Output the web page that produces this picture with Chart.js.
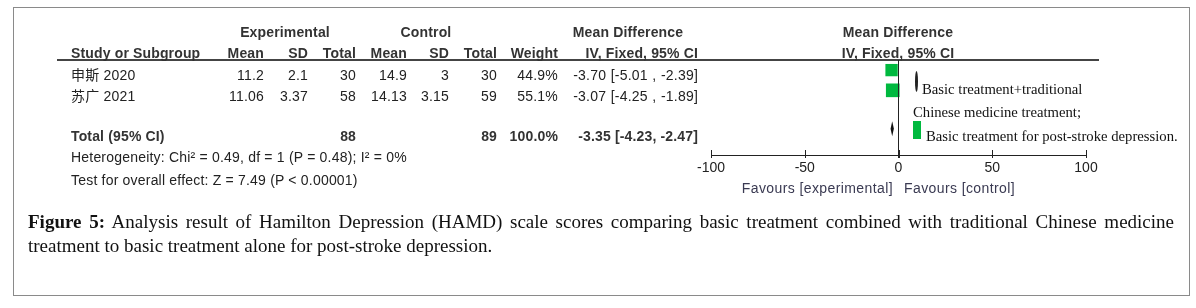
<!DOCTYPE html>
<html>
<head>
<meta charset="utf-8">
<script src="https://cdn.jsdelivr.net/npm/chart.js@4"></script>
<style>
  body { margin: 0; background: #fff; width: 1196px; height: 308px; overflow: hidden; position: relative;
         font-family: "Liberation Sans", Arial, "Noto Sans CJK SC", sans-serif; color: #222; }
  #frame { position: absolute; left: 13px; top: 7px; width: 1175px; height: 287px; border: 1px solid #8a8a8a; }
  #wrap { position: absolute; left: 0; top: 0; width: 1196px; height: 308px; }
  .t { position: absolute; font-size: 14px; line-height: 16px; white-space: nowrap; letter-spacing: 0.2px; }
  .b { font-weight: bold; color: #333; letter-spacing: 0.15px; }
  .ci { word-spacing: 0.5px; }
  .fav { color: #3a3a52; letter-spacing: 0.4px; }
  .leg { position: absolute; font-family: "Liberation Serif", "DejaVu Serif", serif; font-size: 14.7px; line-height: 16px; white-space: nowrap; color: #111; }
  #rule { position: absolute; left: 57px; top: 59px; width: 1042px; height: 2px; background: #444; }
  #cap1, #cap2 { position: absolute; left: 28px; width: 1146px; font-family: "Liberation Serif", "DejaVu Serif", serif;
                 font-size: 19px; line-height: 24px; color: #111; white-space: nowrap; }
  #cap1 { top: 210px; text-align: justify; text-align-last: justify; white-space: normal; }
  #cap2 { top: 234px; }
</style>
</head>
<body>
<div id="frame"></div>
<div id="rule"></div>
<div id="wrap"><canvas id="forest" width="1196" height="308"></canvas></div>
<div id="cap1"><b>Figure 5:</b> Analysis result of Hamilton Depression (HAMD) scale scores comparing basic treatment combined with traditional Chinese medicine</div>
<div id="cap2">treatment to basic treatment alone for post-stroke depression.</div>
<script>
// study data
var studies = ["申斯 2020", "苏广 2021"];
var expMean = [11.2, 11.06];
var expSD = [2.1, 3.37];
var expTotal = [30, 58];
var ctlMean = [14.9, 14.13];
var ctlSD = [3, 3.15];
var ctlTotal = [30, 59];
var weight = [44.9, 55.1];
var md = [-3.70, -3.07];
var ciLow = [-5.01, -4.25];
var ciHigh = [-2.39, -1.89];

// pooled
var totalExp = 88, totalCtl = 89, totalWeight = 100.0;
var totalMD = -3.35, totalLow = -4.23, totalHigh = -2.47;

var xTicks = [-100, -50, 0, 50, 100];

// row layout (pixel centres of the text rows)
var rowY = [75, 96];
var totalY = 136;
var yRows = [0, 1];
var yTotal = 2.9;

function put(txt, x, y, align, cls) {
  var d = document.createElement('div');
  d.className = 't ' + (cls || '');
  d.textContent = txt;
  d.style.top = (y - 8) + 'px';
  if (align === 'right') d.style.right = (1196 - x) + 'px';
  else if (align === 'center') { d.style.left = x + 'px'; d.style.transform = 'translateX(-50%)'; }
  else d.style.left = x + 'px';
  document.body.appendChild(d);
  return d;
}
function ci(m, l, h, sep) { return m.toFixed(2) + ' [' + l.toFixed(2) + sep + h.toFixed(2) + ']'; }

// headers
put('Experimental', 285, 32, 'center', 'b');
put('Control', 426, 32, 'center', 'b');
put('Mean Difference', 628, 32, 'center', 'b');
put('Mean Difference', 898, 32, 'center', 'b');
put('Study or Subgroup', 71, 53, 'left', 'b');
put('Mean', 264, 53, 'right', 'b');
put('SD', 308, 53, 'right', 'b');
put('Total', 356, 53, 'right', 'b');
put('Mean', 407, 53, 'right', 'b');
put('SD', 449, 53, 'right', 'b');
put('Total', 497, 53, 'right', 'b');
put('Weight', 558, 53, 'right', 'b');
put('IV, Fixed, 95% CI', 698, 53, 'right', 'b');
put('IV, Fixed, 95% CI', 898, 53, 'center', 'b');

studies.forEach(function (s, i) {
  var y = rowY[i];
  put(s, 71, y, 'left');
  put(String(expMean[i]), 264, y, 'right');
  put(String(expSD[i]), 308, y, 'right');
  put(String(expTotal[i]), 356, y, 'right');
  put(String(ctlMean[i]), 407, y, 'right');
  put(String(ctlSD[i]), 449, y, 'right');
  put(String(ctlTotal[i]), 497, y, 'right');
  put(weight[i].toFixed(1) + '%', 558, y, 'right');
  put(ci(md[i], ciLow[i], ciHigh[i], ' , '), 698, y, 'right', 'ci');
});

put('Total (95% CI)', 71, totalY, 'left', 'b');
put(String(totalExp), 356, totalY, 'right', 'b');
put(String(totalCtl), 497, totalY, 'right', 'b');
put(totalWeight.toFixed(1) + '%', 558, totalY, 'right', 'b');
put(ci(totalMD, totalLow, totalHigh, ', '), 698, totalY, 'right', 'b');
put('Heterogeneity: Chi\u00b2 = 0.49, df = 1 (P = 0.48); I\u00b2 = 0%', 71, 157, 'left');
put('Test for overall effect: Z = 7.49 (P < 0.00001)', 71, 180, 'left');
put('Favours [experimental]', 893, 188, 'right', 'fav');
put('Favours [control]', 904, 188, 'left', 'fav');

// legend overlay from the source figure
function leg(txt, x, y) {
  var d = document.createElement('div');
  d.className = 'leg'; d.textContent = txt;
  d.style.left = x + 'px'; d.style.top = (y - 8) + 'px';
  document.body.appendChild(d);
}
leg('Basic treatment+traditional', 922, 89);
leg('Chinese medicine treatment;', 913, 112);
leg('Basic treatment for post-stroke depression.', 926, 136);
var m1 = document.createElement('div');
m1.style.cssText = 'position:absolute;left:915px;top:71px;width:3px;height:21px;border-radius:50%;background:#222;';
document.body.appendChild(m1);
var m2 = document.createElement('div');
m2.style.cssText = 'position:absolute;left:913px;top:121px;width:8px;height:18px;background:#00b93f;';
document.body.appendChild(m2);

var forestPlugin = {
  id: 'forest',
  afterDatasetsDraw: function (chart) {
    var c = chart.ctx, a = chart.chartArea;
    var xs = chart.scales.x, ys = chart.scales.y;
    c.save();
    c.strokeStyle = '#222';
    c.lineWidth = 1;
    // line of no effect
    var x0 = xs.getPixelForValue(0);
    c.beginPath(); c.moveTo(x0, a.top); c.lineTo(x0, a.bottom + 3); c.stroke();
    // tick marks
    xTicks.forEach(function (v) {
      var px = Math.round(xs.getPixelForValue(v)) + 0.5;
      c.beginPath(); c.moveTo(px, a.bottom - 5); c.lineTo(px, a.bottom + 3); c.stroke();
    });
    // pooled diamond
    var yc = ys.getPixelForValue(yTotal);
    c.fillStyle = '#111';
    c.beginPath();
    c.moveTo(xs.getPixelForValue(totalLow), yc);
    c.lineTo(xs.getPixelForValue(totalMD), yc - 7.5);
    c.lineTo(xs.getPixelForValue(totalHigh), yc);
    c.lineTo(xs.getPixelForValue(totalMD), yc + 7.5);
    c.closePath(); c.fill();
    c.restore();
  }
};

var datasets = [{
  type: 'scatter',
  data: md.map(function (m, i) { return { x: m, y: yRows[i] }; }),
  pointStyle: 'rect',
  pointRadius: weight.map(function (w) { return Math.sqrt(w) * 1.3; }),
  backgroundColor: '#00b93f',
  borderWidth: 0
}];
studies.forEach(function (s, i) {
  datasets.push({
    type: 'line',
    data: [{ x: ciLow[i], y: yRows[i] }, { x: ciHigh[i], y: yRows[i] }],
    borderColor: '#000', borderWidth: 1, pointRadius: 0, fill: false
  });
});

var ctx = document.getElementById('forest').getContext('2d');
var forest = new Chart(ctx, {
  type: 'scatter',
  data: { datasets: datasets },
  options: {
    responsive: false,
    animation: false,
    layout: { padding: { left: 711, right: 110, top: 60, bottom: 123 } },
    plugins: { legend: { display: false }, tooltip: { enabled: false } },
    scales: {
      x: {
        type: 'linear', min: -100, max: 100,
        afterBuildTicks: function (s) { s.ticks = xTicks.map(function (v) { return { value: v }; }); },
        afterFit: function (s) { s.height = 30; },
        grid: { display: false, drawTicks: false },
        border: { display: true, color: '#222', width: 1 },
        ticks: { padding: 5, maxRotation: 0, autoSkip: false, color: '#222',
                 font: { family: 'Liberation Sans', size: 14 } }
      },
      y: { type: 'linear', display: false, min: -0.5, max: 4.2, reverse: true }
    }
  },
  plugins: [forestPlugin]
});
</script>
</body>
</html>
